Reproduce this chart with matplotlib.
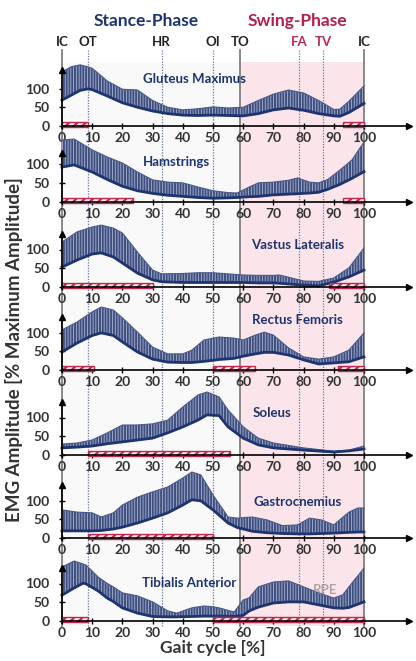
import matplotlib
matplotlib.use('Agg')
import matplotlib.pyplot as plt
from matplotlib.patches import Rectangle

plt.rcParams['font.family'] = ['Lato', 'DejaVu Sans']
plt.rcParams['hatch.linewidth'] = 0.6

# gait events (% of gait cycle)
event_names = ['IC', 'OT', 'HR', 'OI', 'TO', 'FA', 'TV', 'IC']
event_pos = [0, 8.5, 33, 50, 59, 78.5, 86.5, 100]

muscles = ['Gluteus Maximus', 'Hamstrings', 'Vastus Lateralis', 'Rectus Femoris',
           'Soleus', 'Gastrocnemius', 'Tibialis Anterior']

glut_x = [0, 3, 6, 8.5, 10, 15, 20, 25, 30, 35, 40, 45, 50, 55, 60, 65, 70, 75, 80, 85, 90, 92, 95, 100]
glut_mean = [69, 82, 95, 99, 97, 80, 62, 50, 40, 33, 29, 28, 29, 28, 27, 33, 43, 48, 42, 33, 27, 26, 36, 60]
glut_upper = [144, 158, 163, 158, 154, 120, 98, 96, 68, 50, 43, 46, 51, 48, 50, 68, 85, 96, 88, 68, 44, 45, 66, 107]

ham_x = [0, 4, 10, 15, 20, 25, 30, 35, 40, 45, 50, 55, 58, 62, 65, 70, 75, 78, 82, 85, 88, 92, 96, 100]
ham_mean = [93, 99, 80, 60, 42, 30, 23, 18, 15, 12, 10, 11, 12, 14, 15, 19, 21, 22, 24, 26, 34, 47, 63, 81]
ham_upper = [165, 168, 139, 120, 104, 80, 59, 53, 51, 40, 30, 25, 24, 40, 51, 53, 58, 64, 53, 51, 60, 85, 112, 160]

vas_x = [0, 5, 10, 13, 17, 20, 25, 30, 33, 40, 45, 50, 55, 60, 65, 70, 72, 75, 80, 85, 90, 95, 100]
vas_mean = [53, 72, 88, 91, 80, 64, 37, 19, 14, 12, 12, 12, 12, 12, 11, 11, 10, 8, 5, 3, 13, 27, 45]
vas_upper = [120, 147, 160, 165, 157, 144, 93, 45, 35, 36, 38, 38, 35, 32, 31, 31, 32, 26, 16, 15, 24, 51, 104]

rec_x = [0, 5, 10, 13, 17, 20, 25, 30, 35, 40, 43, 47, 52, 57, 60, 64, 67, 70, 75, 80, 85, 90, 95, 100]
rec_mean = [48, 72, 92, 99, 92, 75, 48, 29, 21, 20, 20, 23, 28, 31, 37, 43, 47, 47, 40, 27, 16, 19, 22, 35]
rec_upper = [107, 128, 155, 168, 160, 139, 101, 61, 43, 43, 53, 80, 88, 85, 80, 93, 101, 93, 59, 35, 29, 35, 53, 99]

sol_x = [0, 5, 10, 15, 20, 25, 30, 35, 40, 45, 48, 52, 55, 60, 65, 70, 80, 90, 95, 100]
sol_mean = [19, 21, 24, 30, 35, 40, 45, 59, 75, 93, 107, 105, 75, 45, 27, 19, 13, 8, 11, 16]
sol_upper = [29, 32, 40, 59, 80, 80, 83, 93, 128, 160, 168, 155, 120, 75, 45, 32, 19, 10, 13, 24]

gas_x = [0, 5, 10, 13, 17, 20, 25, 30, 35, 40, 43, 46, 50, 55, 58, 63, 68, 73, 78, 82, 86, 90, 95, 98, 100]
gas_mean = [19, 19, 19, 20, 24, 29, 40, 53, 67, 88, 102, 99, 75, 40, 28, 18, 14, 12, 11, 11, 12, 13, 15, 16, 16]
gas_upper = [75, 69, 67, 56, 67, 88, 109, 123, 136, 160, 176, 168, 115, 56, 53, 56, 48, 33, 35, 53, 48, 35, 69, 80, 80]

tib_x = [0, 4, 7, 8, 12, 15, 17, 20, 25, 30, 35, 38, 43, 47, 50, 52, 57, 60, 62, 65, 70, 75, 80, 85, 90, 93, 95, 100]
tib_mean = [69, 88, 101, 99, 80, 61, 52, 35, 21, 12, 11, 11, 12, 13, 13, 13, 12, 15, 27, 37, 48, 51, 51, 43, 35, 34, 36, 51]
tib_upper = [144, 160, 152, 149, 117, 100, 91, 75, 67, 51, 27, 21, 35, 40, 38, 35, 24, 56, 62, 91, 104, 107, 91, 75, 61, 70, 91, 141]

# hatched "on" periods
glut_on = [(0, 8.5), (93, 100)]
ham_on = [(0, 23.5), (93, 100)]
vas_on = [(0, 30), (88.5, 100)]
rec_on = [(0, 10.5), (50, 64), (91.5, 100)]
sol_on = [(8.5, 55.5)]
gas_on = [(8.5, 50)]
tib_on = [(0, 8.5), (50, 100)]

xs = [glut_x, ham_x, vas_x, rec_x, sol_x, gas_x, tib_x]
means = [glut_mean, ham_mean, vas_mean, rec_mean, sol_mean, gas_mean, tib_mean]
uppers = [glut_upper, ham_upper, vas_upper, rec_upper, sol_upper, gas_upper, tib_upper]
ons = [glut_on, ham_on, vas_on, rec_on, sol_on, gas_on, tib_on]
# label positions (x in %, y in amplitude units)
name_pos = [(44, 125), (38, 107), (78, 112), (78, 133), (69.5, 112), (78, 96), (42, 101)]

NAVY = '#1d3470'
BAND = '#3f5080'
STRIPE = '#aab3cf'
RED = '#c0284f'
TXT = '#333333'

W, H = 416, 661
fig = plt.figure(figsize=(W / 100, H / 100), dpi=100)

PX_L, PX_R = 40, 412
X0, XS = 62, 3.02          # pixel of 0 %, pixels per %
XLIM = ((PX_L - X0) / XS, (PX_R - X0) / XS)
YS = 0.375                 # pixels per amplitude unit

# background: phases, event lines, headers
bg = fig.add_axes([PX_L / W, 0, (PX_R - PX_L) / W, 1])
bg.set_xlim(*XLIM)
bg.set_ylim(H, 0)
bg.axis('off')
bg.add_patch(Rectangle((0, 62), 59, 564, facecolor='#f9f9fa', edgecolor='none'))
bg.add_patch(Rectangle((59, 62), 41, 564, facecolor='#fbe5eb', edgecolor='none'))
for name, p in zip(event_names, event_pos):
    if name in ('IC', 'TO'):
        bg.plot([p, p], [50, 626], color='#808080', lw=1.3)
    else:
        bg.plot([p, p], [50, 626], color='#6a78a0', lw=0.9, ls=(0, (1, 1.2)))
    col = RED if name in ('FA', 'TV') else '#222222'
    bg.text(p, 42, name, ha='center', va='center', fontsize=9.5, fontweight='bold', color=col)
bg.text(28, 21, 'Stance-Phase', ha='center', va='center', fontsize=12.5, fontweight='bold', color=NAVY)
bg.text(78, 21, 'Swing-Phase', ha='center', va='center', fontsize=12.5, fontweight='bold', color='#b3204a')

zeros = [126, 202, 287, 370, 455, 538, 621]
arrow_top = [150, 130, 141, 141, 141, 141, 141]
TOP, BOT = 70, 20

for i, z in enumerate(zeros):
    ax = fig.add_axes([PX_L / W, 1 - (z + BOT) / H, (PX_R - PX_L) / W, (TOP + BOT) / H])
    ax.patch.set_alpha(0)
    ax.set_xlim(*XLIM)
    ax.set_ylim(-BOT / YS, TOP / YS)
    ax.fill_between(xs[i], means[i], uppers[i], facecolor=BAND, edgecolor=STRIPE,
                    hatch='||||||', lw=0, zorder=2)
    ax.plot(xs[i], uppers[i], color='#4a5a88', lw=0.8, zorder=2)
    ax.plot(xs[i], means[i], color=NAVY, lw=2, zorder=3)
    for a, b in ons[i]:
        bar = Rectangle((a, -3), b - a, 13, facecolor='#fbe9ee', edgecolor=RED,
                        hatch='////', lw=1.0, zorder=4)
        if hasattr(bar, 'set_hatch_linewidth'):
            bar.set_hatch_linewidth(1.6)
        ax.add_patch(bar)
    for s in ('top', 'right'):
        ax.spines[s].set_visible(False)
    ax.spines['bottom'].set_position(('data', 0))
    ax.spines['bottom'].set_bounds(0, 114)
    ax.spines['left'].set_position(('data', 0))
    ax.spines['left'].set_bounds(-4, arrow_top[i] - 3)
    for s in ('bottom', 'left'):
        ax.spines[s].set_linewidth(1.2)
        ax.spines[s].set_zorder(5)
    ax.plot(115, 0, marker='>', color='black', ms=5, clip_on=False, zorder=6)
    ax.plot(0, arrow_top[i], marker='^', color='black', ms=5, clip_on=False, zorder=6)
    ax.set_xticks(range(0, 101, 10))
    ax.set_yticks([0, 50, 100])
    ax.tick_params(axis='x', direction='inout', length=5, width=1, pad=1.5,
                   labelsize=10, labelcolor=TXT)
    ax.tick_params(axis='y', direction='inout', length=4, width=1, pad=7,
                   labelsize=10, labelcolor=TXT)
    for lab in ax.get_xticklabels() + ax.get_yticklabels():
        lab.set_fontweight('bold')
    nx, ny = name_pos[i]
    ax.text(nx, ny, muscles[i], ha='center', va='center', fontsize=9.5,
            fontweight='bold', color=NAVY, zorder=7)
    if i == 6:
        ax.text(87, 83, 'RPE', ha='center', va='center', fontsize=9.5,
                fontweight='bold', color='#8a8a8a', alpha=0.7, zorder=7)

fig.text(213 / W, 1 - 648 / H, 'Gait cycle [%]', ha='center', va='center',
         fontsize=12.5, fontweight='bold', color=TXT)
fig.text(14 / W, 1 - 350 / H, 'EMG Amplitude [% Maximum Amplitude]', ha='center',
         va='center', rotation=90, fontsize=13.5, fontweight='bold', color=TXT)

fig.savefig('out.png', dpi=100)
